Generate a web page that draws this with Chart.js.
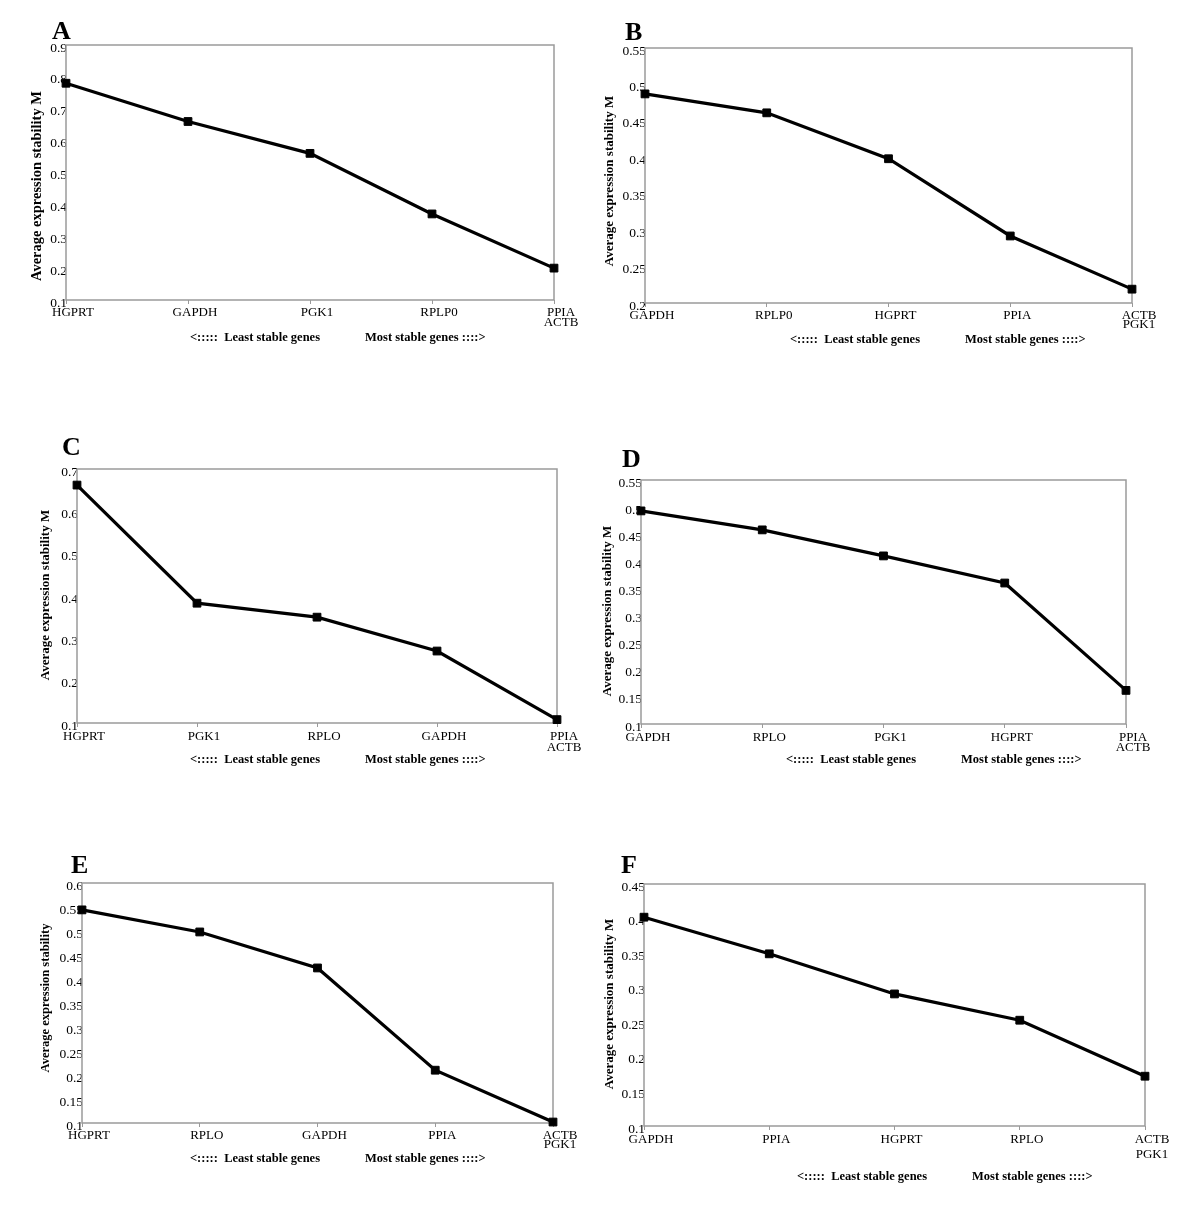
<!DOCTYPE html>
<html>
<head>
<meta charset="utf-8">
<script src="https://cdn.jsdelivr.net/npm/chart.js@4.4.1/dist/chart.umd.min.js"></script>
<style>
  body { margin: 0; background: #fff; }
  #page { position: relative; width: 1200px; height: 1223px; background: #fff; }
  canvas { position: absolute; }
</style>
</head>
<body>
<div id="page"></div>
<script>
// Gene order and average expression stability (M) for each panel
const labelsA = ['HGPRT', 'GAPDH', 'PGK1', 'RPLP0', ['PPIA', 'ACTB']];
const valuesA = [0.78, 0.66, 0.56, 0.37, 0.20];

const labelsB = ['GAPDH', 'RPLP0', 'HGPRT', 'PPIA', ['ACTB', 'PGK1']];
const valuesB = [0.487, 0.461, 0.398, 0.292, 0.219];

const labelsC = ['HGPRT', 'PGK1', 'RPLO', 'GAPDH', ['PPIA', 'ACTB']];
const valuesC = [0.662, 0.383, 0.350, 0.270, 0.108];

const labelsD = ['GAPDH', 'RPLO', 'PGK1', 'HGPRT', ['PPIA', 'ACTB']];
const valuesD = [0.493, 0.458, 0.410, 0.360, 0.162];

const labelsE = ['HGPRT', 'RPLO', 'GAPDH', 'PPIA', ['ACTB', 'PGK1']];
const valuesE = [0.544, 0.498, 0.423, 0.210, 0.102];

const labelsF = ['GAPDH', 'PPIA', 'HGPRT', 'RPLO', ['ACTB', 'PGK1']];
const valuesF = [0.402, 0.349, 0.291, 0.253, 0.172];

const SERIF = '"Liberation Serif", "Times New Roman", serif';
const AXIS_GRAY = '#9a9a9a';

// layout of each panel on the page (page pixels)
const panels = [
    { letter: 'A', labels: labelsA, values: valuesA, yMin: 0.1, yMax: 0.9, step: 0.1,
      ox: 0, oy: 0, h: 420, area: [66, 45, 554, 300], letterPos: [52, 39],
      yTitle: 'Average expression stability M', yTitlePos: [37, 186], yTitleSize: 14.5,
      sub: [190, 365, 338], firstLine: 13, lineGap: 10 },
    { letter: 'B', labels: labelsB, values: valuesB, yMin: 0.2, yMax: 0.55, step: 0.05,
      ox: 600, oy: 0, h: 420, area: [645, 48, 1132, 303], letterPos: [625, 40],
      yTitle: 'Average expression stability M', yTitlePos: [610, 181], yTitleSize: 13,
      sub: [790, 965, 340], firstLine: 13, lineGap: 9 },
    { letter: 'C', labels: labelsC, values: valuesC, yMin: 0.1, yMax: 0.7, step: 0.1,
      ox: 0, oy: 420, h: 420, area: [77, 469, 557, 723], letterPos: [62, 455],
      yTitle: 'Average expression stability M', yTitlePos: [46, 595], yTitleSize: 13,
      sub: [190, 365, 760], firstLine: 14, lineGap: 11 },
    { letter: 'D', labels: labelsD, values: valuesD, yMin: 0.1, yMax: 0.55, step: 0.05,
      ox: 600, oy: 420, h: 420, area: [641, 480, 1126, 724], letterPos: [622, 467],
      yTitle: 'Average expression stability M', yTitlePos: [608, 611], yTitleSize: 13,
      sub: [786, 961, 760], firstLine: 14, lineGap: 10 },
    { letter: 'E', labels: labelsE, values: valuesE, yMin: 0.1, yMax: 0.6, step: 0.05,
      ox: 0, oy: 840, h: 383, area: [82, 883, 553, 1123], letterPos: [71, 873],
      yTitle: 'Average expression stability', yTitlePos: [46, 998], yTitleSize: 12.5,
      sub: [190, 365, 1159], firstLine: 13, lineGap: 9 },
    { letter: 'F', labels: labelsF, values: valuesF, yMin: 0.1, yMax: 0.45, step: 0.05,
      ox: 600, oy: 840, h: 383, area: [644, 884, 1145, 1126], letterPos: [621, 873],
      yTitle: 'Average expression stability M', yTitlePos: [610, 1004], yTitleSize: 13,
      sub: [797, 972, 1177], firstLine: 14, lineGap: 15 }
];

// plot frame, panel letter, rotated y title and the two-part x caption
const panelText = {
    id: 'panelText',
    beforeDatasetsDraw(chart, args, o) {
        const { ctx, chartArea: a } = chart;
        ctx.save();
        ctx.strokeStyle = AXIS_GRAY;
        ctx.lineWidth = 1.5;
        ctx.strokeRect(a.left, a.top, a.right - a.left, a.bottom - a.top);
        ctx.restore();
    },
    afterDraw(chart, args, o) {
        const p = o.panel;
        const ctx = chart.ctx;
        ctx.save();
        ctx.fillStyle = '#000';

        ctx.font = 'bold 26px ' + SERIF;
        ctx.textAlign = 'left';
        ctx.textBaseline = 'alphabetic';
        ctx.fillText(p.letter, p.letterPos[0] - p.ox, p.letterPos[1] - p.oy);

        ctx.save();
        ctx.translate(p.yTitlePos[0] - p.ox, p.yTitlePos[1] - p.oy);
        ctx.rotate(-Math.PI / 2);
        ctx.font = 'bold ' + p.yTitleSize + 'px ' + SERIF;
        ctx.textAlign = 'center';
        ctx.textBaseline = 'middle';
        ctx.fillText(p.yTitle, 0, 0);
        ctx.restore();

        ctx.font = 'bold 12.5px ' + SERIF;
        ctx.textAlign = 'left';
        ctx.textBaseline = 'middle';
        ctx.fillText('<:::::  Least stable genes', p.sub[0] - p.ox, p.sub[2] - p.oy);
        ctx.fillText('Most stable genes ::::>', p.sub[1] - p.ox, p.sub[2] - p.oy);
        ctx.restore();
    }
};

const page = document.getElementById('page');
const X_HEIGHT = 40;
const TICK_LEN = 4;
const TICK_FONT = 13;

panels.forEach(p => {
    const canvas = document.createElement('canvas');
    canvas.width = 600;
    canvas.height = p.h;
    canvas.style.left = p.ox + 'px';
    canvas.style.top = p.oy + 'px';
    page.appendChild(canvas);

    const [L, T, R, B] = p.area;
    const yWidth = L - p.ox;
    const lh = p.lineGap / TICK_FONT;
    const tickPad = p.firstLine - p.lineGap / 2 - TICK_LEN;

    new Chart(canvas.getContext('2d'), {
        type: 'line',
        data: {
            labels: p.labels,
            datasets: [{
                data: p.values,
                borderColor: '#000',
                backgroundColor: '#000',
                borderWidth: 3.2,
                tension: 0,
                pointStyle: 'rect',
                pointRadius: 5.5,
                pointBorderWidth: 1,
                pointBackgroundColor: '#000',
                pointBorderColor: '#000',
                clip: false
            }]
        },
        options: {
            responsive: false,
            animation: false,
            devicePixelRatio: 1,
            layout: {
                padding: {
                    left: 0,
                    top: T - p.oy,
                    right: p.ox + 600 - R,
                    bottom: p.h - (B - p.oy) - X_HEIGHT
                }
            },
            scales: {
                x: {
                    afterFit: scale => { scale.height = X_HEIGHT; },
                    border: { display: false },
                    grid: { drawOnChartArea: false, drawTicks: true, tickLength: TICK_LEN, color: AXIS_GRAY },
                    ticks: {
                        color: '#000',
                        font: { family: SERIF, size: TICK_FONT, lineHeight: lh },
                        padding: tickPad,
                        labelOffset: 7,
                        maxRotation: 0,
                        autoSkip: false
                    }
                },
                y: {
                    min: p.yMin,
                    max: p.yMax,
                    afterFit: scale => { scale.width = yWidth; },
                    border: { display: false },
                    grid: { display: false, drawTicks: false },
                    ticks: {
                        stepSize: p.step,
                        color: '#000',
                        font: { family: SERIF, size: 13.5 },
                        padding: -1,
                        labelOffset: 3,
                        callback: v => String(Number(v.toFixed(2)))
                    }
                }
            },
            plugins: {
                legend: { display: false },
                title: { display: false },
                tooltip: { enabled: false },
                panelText: { panel: p }
            }
        },
        plugins: [panelText]
    });
});
</script>
</body>
</html>
